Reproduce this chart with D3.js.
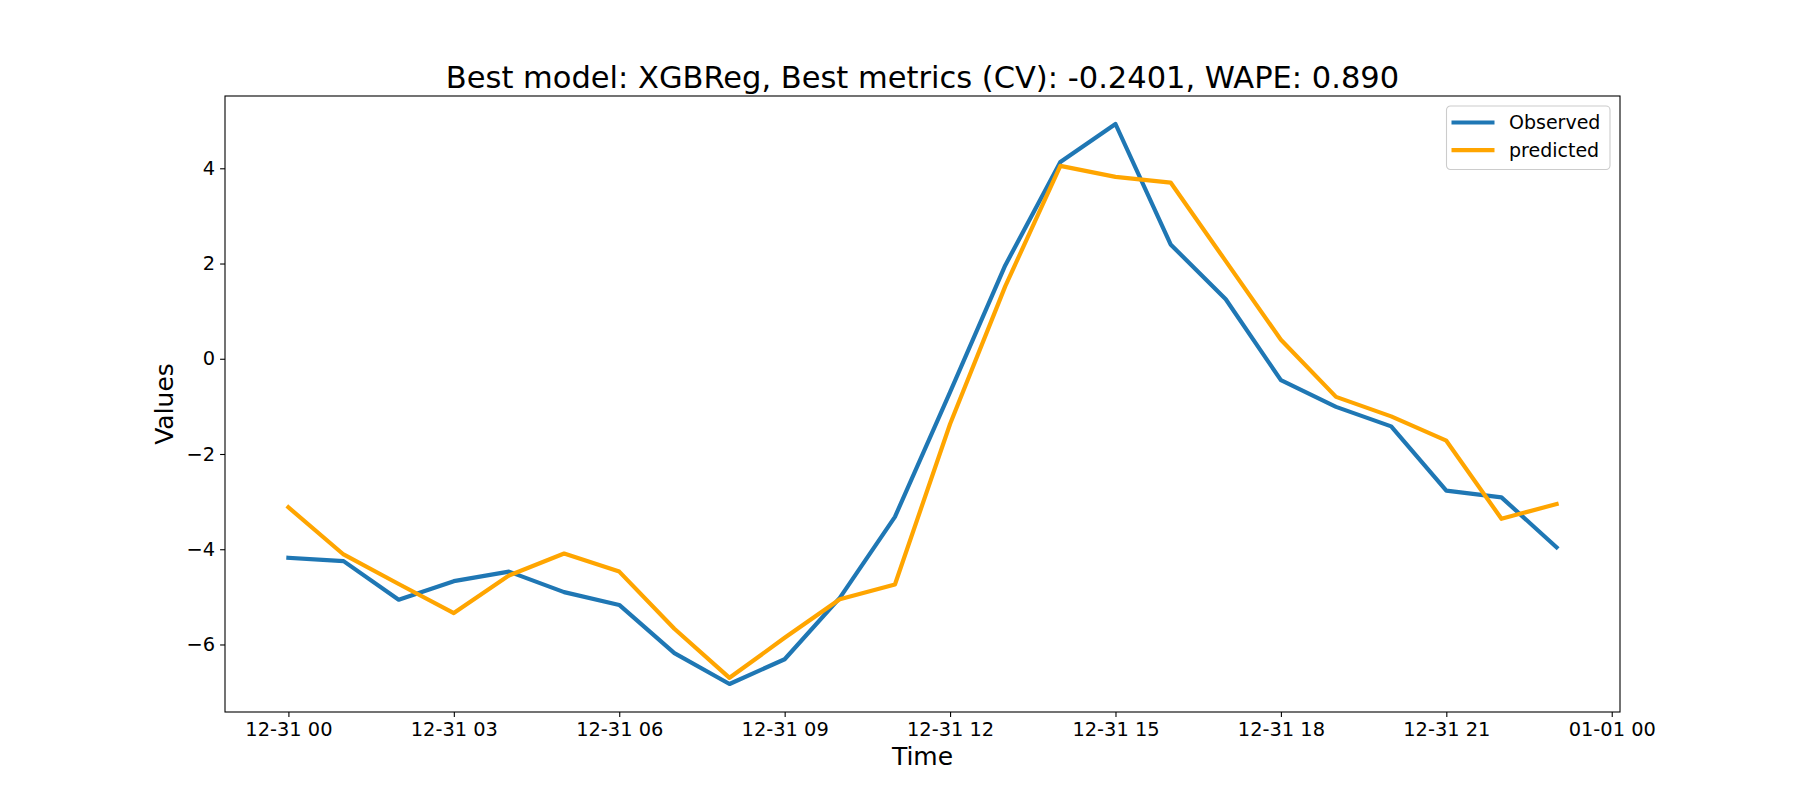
<!DOCTYPE html>
<html>
<head>
<meta charset="utf-8">
<script src="https://cdn.jsdelivr.net/npm/d3@7"></script>
<style>
  body { margin: 0; background: #fff; }
  svg { display: block; font-family: "DejaVu Sans", sans-serif; }
</style>
</head>
<body>
<div id="chart"></div>
<script>
// data (hourly, 12-31 00 .. 12-31 23)
var hours = d3.range(0, 24);
var observed = [-4.18, -4.25, -5.06, -4.67, -4.47, -4.90, -5.17, -6.18, -6.83, -6.31, -5.02, -3.32,
                -0.70, 1.96, 4.13, 4.93, 2.40, 1.25, -0.45, -1.01, -1.42, -2.77, -2.91, -3.96];
var predicted = [-3.12, -4.11, -4.73, -5.34, -4.55, -4.09, -4.47, -5.67, -6.70, -5.86, -5.05, -4.74,
                 -1.37, 1.52, 4.05, 3.82, 3.70, 2.05, 0.40, -0.80, -1.21, -1.72, -3.36, -3.05];
var seriesNames = ["Observed", "predicted"];
var seriesColors = ["#1f77b4", "orange"];
var yTicks = [-6, -4, -2, 0, 2, 4];
var titleText = "Best model: XGBReg, Best metrics (CV): -0.2401, WAPE: 0.890";

var startTime = Date.UTC(2023, 11, 31, 0);
var times = hours.map(h => new Date(startTime + h * 3600e3));

// Part 1: plot area
var svgWidth = 1800, svgHeight = 800;
var margin = { top: 96, right: 180, bottom: 88, left: 225 };
var chartWidth = svgWidth - margin.left - margin.right;
var chartHeight = svgHeight - margin.top - margin.bottom;

var svg = d3.select("#chart").append("svg")
  .attr("width", svgWidth)
  .attr("height", svgHeight);

var chartGroup = svg.append("g")
  .attr("transform", `translate(${margin.left}, ${margin.top})`);

// Part 2: scales (5% margins like matplotlib)
var tExt = d3.extent(times);
var tPad = (tExt[1] - tExt[0]) * 0.05;
var xScale = d3.scaleUtc()
  .domain([new Date(+tExt[0] - tPad), new Date(+tExt[1] + tPad)])
  .range([0, chartWidth]);

var allVals = observed.concat(predicted);
var yMin = d3.min(allVals), yMax = d3.max(allVals);
var yPad = (yMax - yMin) * 0.05;
var yScale = d3.scaleLinear()
  .domain([yMin - yPad, yMax + yPad])
  .range([chartHeight, 0]);

// axes
var xTickVals = d3.utcHour.every(3).range(new Date(startTime), new Date(startTime + 25 * 3600e3));
var bottomAxis = d3.axisBottom(xScale)
  .tickValues(xTickVals)
  .tickFormat(d3.utcFormat("%m-%d %H"))
  .tickSize(4.9)
  .tickPadding(4.9);
var leftAxis = d3.axisLeft(yScale)
  .tickValues(yTicks)
  .tickFormat(d3.format("d"))
  .tickSize(4.9)
  .tickPadding(4.9);

var xAxis = chartGroup.append("g")
  .attr("transform", `translate(0, ${chartHeight})`)
  .call(bottomAxis);
var yAxis = chartGroup.append("g")
  .call(leftAxis);

[xAxis, yAxis].forEach(function(ax) {
  ax.select(".domain").remove();
  ax.selectAll(".tick line").attr("stroke", "#000").attr("stroke-width", 1.1);
  ax.selectAll(".tick text")
    .attr("fill", "#000")
    .style("font-size", "19.4px")
    .style("font-family", "DejaVu Sans");
});

// frame
chartGroup.append("rect")
  .attr("width", chartWidth)
  .attr("height", chartHeight)
  .attr("fill", "none")
  .attr("stroke", "#000")
  .attr("stroke-width", 1.1);

// Part 3: lines
var line = d3.line()
  .x((d, i) => xScale(times[i]))
  .y(d => yScale(d));

[observed, predicted].forEach(function(vals, k) {
  chartGroup.append("path")
    .datum(vals)
    .attr("d", line)
    .attr("fill", "none")
    .attr("stroke", seriesColors[k])
    .attr("stroke-width", 4.2)
    .attr("stroke-linejoin", "round")
    .attr("stroke-linecap", "square");
});

// legend
var legend = chartGroup.append("g")
  .attr("transform", `translate(${chartWidth - 173.5}, 10)`);
legend.append("rect")
  .attr("width", 163.5)
  .attr("height", 63.5)
  .attr("rx", 4)
  .attr("fill", "rgba(255,255,255,0.8)")
  .attr("stroke", "#cccccc")
  .attr("stroke-width", 1.1);
seriesNames.forEach(function(name, k) {
  var y = 16.5 + k * 27.7;
  legend.append("line")
    .attr("x1", 5).attr("x2", 48)
    .attr("y1", y).attr("y2", y)
    .attr("stroke", seriesColors[k])
    .attr("stroke-width", 4.2);
  legend.append("text")
    .attr("x", 62.5)
    .attr("y", y + 6.5)
    .style("font-size", "19px")
    .text(name);
});

// titles
svg.append("text")
  .attr("x", margin.left + chartWidth / 2)
  .attr("y", 87.5)
  .attr("text-anchor", "middle")
  .style("font-size", "30.5px")
  .text(titleText);

svg.append("text")
  .attr("x", margin.left + chartWidth / 2)
  .attr("y", 765)
  .attr("text-anchor", "middle")
  .style("font-size", "25px")
  .text("Time");

svg.append("text")
  .attr("transform", `translate(173, ${margin.top + chartHeight / 2}) rotate(-90)`)
  .attr("text-anchor", "middle")
  .style("font-size", "25px")
  .text("Values");
</script>
</body>
</html>
